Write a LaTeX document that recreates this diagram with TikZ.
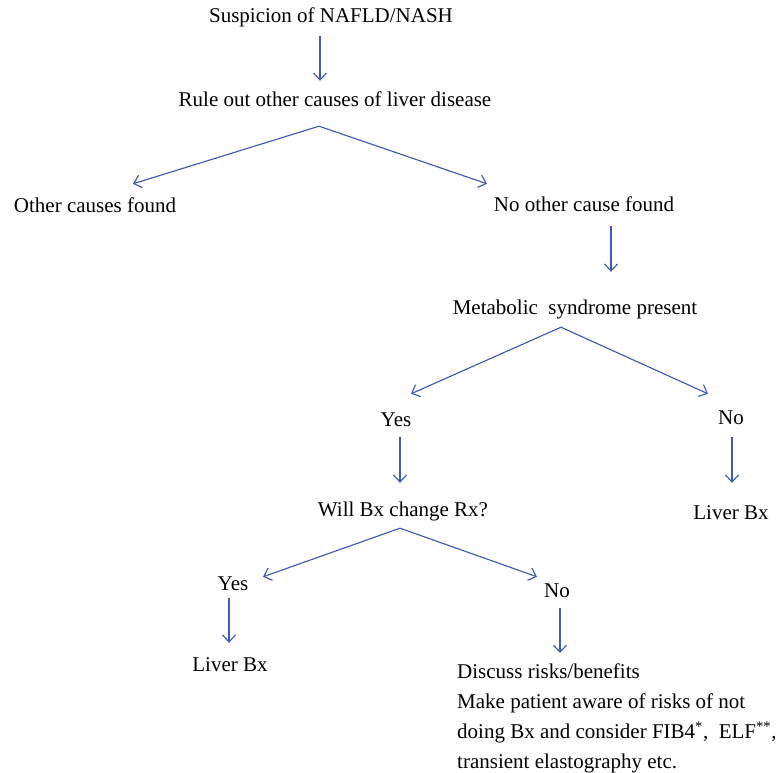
\documentclass[tikz,border=0pt]{standalone}
\usepackage{fontspec}
\setmainfont{Liberation Serif}
\usepackage{xcolor}
\usepackage{tikz}
\usetikzlibrary{arrows.meta}
\definecolor{flowblue}{RGB}{62,92,176}
\tikzstyle{arrow} = [flowblue, line width=1.15pt, -{Straight Barb[length=7pt, width=13pt]}]
\tikzset{every node/.style={align=center}}

\begin{document}
\begin{tikzpicture}[
    x=1pt, y=-1pt,
    txt/.style={anchor=base, inner sep=0pt, text height=14pt, text depth=4pt,
                font=\fontsize{21}{30}\selectfont}
]
  \useasboundingbox (0,0) rectangle (779,773);

  % --- top of the chart ---
  \node[txt] (susp)    at (331, 23)  {Suspicion of NAFLD/NASH};
  \node[txt] (rule)    at (335, 107) {Rule out other causes of liver disease};
  \node[txt] (other)   at (95,  212) {Other causes found};
  \node[txt] (nocause) at (584, 211) {No other cause found};
  \draw[arrow] ([shift={(-11,9)}]susp.south) -- ([shift={(-15,-12)}]rule.north);
  \draw[arrow] ([shift={(-16,15)}]rule.south) -- ([shift={(38,-14)}]other.north);
  \draw[arrow] ([shift={(-16,15)}]rule.south) -- ([shift={(-97,-13)}]nocause.north);

  % --- metabolic syndrome ---
  \node[txt] (metab)  at (575, 314) {Metabolic\ \ syndrome present};
  \node[txt] (yes1)   at (396, 426) {Yes};
  \node[txt] (no1)    at (731, 424) {No};
  \node[txt] (liver1) at (731, 519) {Liver Bx};
  \draw[arrow] ([shift={(27,11)}]nocause.south) -- ([shift={(36,-28)}]metab.north);
  \draw[arrow] ([shift={(-14,9)}]metab.south) -- ([shift={(15,-18)}]yes1.north);
  \draw[arrow] ([shift={(-14,9)}]metab.south) -- ([shift={(-23,-16)}]no1.north);
  \draw[arrow] ([shift={(1,9)}]no1.south) -- ([shift={(1,-22)}]liver1.north);

  % --- biopsy decision ---
  \node[txt] (will)   at (403, 516) {Will Bx change Rx?};
  \node[txt] (yes2)   at (233, 590) {Yes};
  \node[txt] (no2)    at (557, 597) {No};
  \node[txt] (liver2) at (230, 671) {Liver Bx};
  \node[txt, anchor=north west, align=left, text height=, text depth=]
       (discuss) at (457, 664) {Discuss risks/benefits\\
       Make patient aware of risks of not\\
       doing Bx and consider FIB4\textsuperscript{*},\ \ ELF\textsuperscript{**},\\
       transient elastography etc.};
  \draw[arrow] ([shift={(4,7)}]yes1.south) -- ([shift={(-3,-19)}]will.north);
  \draw[arrow] ([shift={(-3,8)}]will.south) -- ([shift={(30,1)}]yes2.north);
  \draw[arrow] ([shift={(-3,8)}]will.south) -- ([shift={(-20,-6)}]no2.north);
  \draw[arrow] ([shift={(-4,4)}]yes2.south) -- ([shift={(-1,-14)}]liver2.north);
  \draw[arrow] ([shift={(3,7)}]no2.south) -- ([shift={(103,-11)}]discuss.north west);
\end{tikzpicture}
\end{document}
